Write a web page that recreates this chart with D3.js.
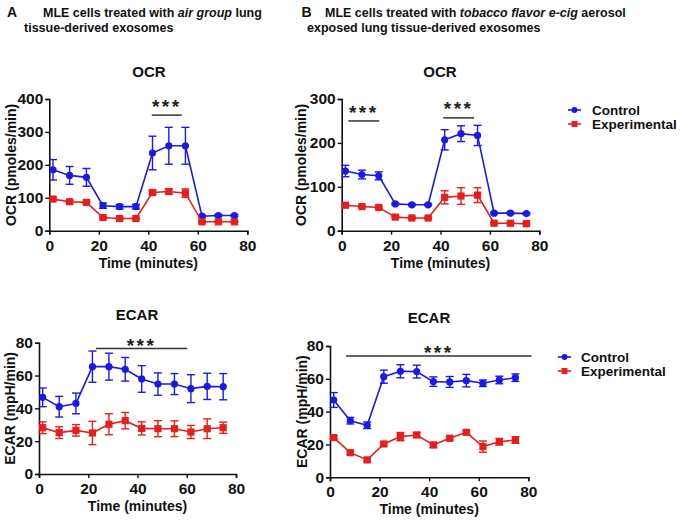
<!DOCTYPE html>
<html><head><meta charset="utf-8">
<script src="https://cdn.jsdelivr.net/npm/d3@7"></script>
<style>
html,body{margin:0;padding:0;background:#fff;}
svg{display:block;font-family:"Liberation Sans",Arial,sans-serif;font-weight:bold;}
</style></head>
<body><svg id="c" width="680" height="521"></svg>
<script>
// ---- data ----
const times = [1.5, 8.2, 15, 21.7, 28.4, 35, 41.7, 48.3, 55, 61.7, 68.3, 74.8];
const seriesNames = ["Control", "Experimental"];
const xTicks = [0, 20, 40, 60, 80];

// Panel A OCR
const aOcrControl = [185, 168, 162, 76, 73, 73, 236, 258, 258, 44, 46, 46];
const aOcrControlErr = [31, 27, 27, 8, 7, 7, 51, 56, 56, 3, 3, 3];
const aOcrExp = [96, 88, 86, 40, 37, 37, 116, 119, 114, 27, 27, 27];
const aOcrExpErr = [4, 3, 3, 3, 2, 2, 5, 8, 13, 3, 2, 2];
const aOcrTicks = [0, 100, 200, 300, 400];

// Panel B OCR
const bOcrControl = [136, 128, 125, 61, 59, 59, 207, 221, 217, 40, 40, 39];
const bOcrControlErr = [13, 10, 9, 2, 2, 2, 23, 18, 23, 2, 2, 2];
const bOcrExp = [58, 55, 53, 31, 29, 29, 76, 79, 81, 17, 17, 16];
const bOcrExpErr = [3, 2, 2, 2, 2, 2, 15, 19, 17, 2, 2, 2];
const bOcrTicks = [0, 100, 200, 300];

// Panel A ECAR
const aEcarControl = [46.7, 41, 43, 65.4, 65.4, 63.8, 57.9, 54.8, 54.8, 52, 53.4, 53.2];
const aEcarControlErr = [5.7, 6.3, 6.3, 9.5, 8.2, 7.2, 8.1, 6.8, 6.4, 8.5, 8, 8];
const aEcarExp = [28.2, 25.2, 26.6, 25, 30.3, 32.5, 27.8, 27.6, 27.6, 25.6, 27.6, 28.2];
const aEcarExpErr = [3.6, 3.6, 3.5, 7.1, 6.4, 5, 4, 4.9, 4.8, 4, 6, 3.4];
const ecarTicks = [0, 20, 40, 60, 80];

// Panel B ECAR
const bEcarControl = [47.1, 34.5, 31.7, 61.3, 64.6, 64.4, 58.3, 58.1, 58.9, 57.3, 59.3, 60.7];
const bEcarControlErr = [4.5, 2, 2, 4, 4, 3.9, 2.9, 3.3, 3.8, 2, 2.3, 2.3];
const bEcarExp = [24.2, 15, 10.6, 20.3, 24.8, 25.8, 19.7, 23.8, 27.4, 18.7, 21.7, 22.7];
const bEcarExpErr = [1, 1, 1, 1, 2.5, 1.5, 1.5, 1, 1, 3.4, 2, 2];

// significance bars: [xStart, xEnd, yBar, yStars]
const aOcrSig = [[41.4, 53.5, 351, 390]];
const bOcrSig = [[2.7, 15.2, 250, 280], [41.1, 53.6, 257, 288]];
const aEcarSig = [[23.1, 60.2, 76.5, 81]];
const bEcarSig = [[6.5, 81.3, 73.9, 79]];

// ---- style / layout ----
const BLUE = "#1a1ae6", RED = "#e61e1e";
const svg = d3.select("#c");

function panel(cfg) {
  const x = d3.scaleLinear().domain([0, 80]).range([cfg.x0, cfg.x1]);
  const y = d3.scaleLinear().domain([0, cfg.ymax]).range([cfg.y0, cfg.y1]);
  const g = svg.append("g");

  // axes
  const xa = g.append("g").attr("transform", `translate(0,${cfg.y0})`)
    .call(d3.axisBottom(x).tickValues(xTicks).tickSize(4).tickPadding(3));
  const ya = g.append("g").attr("transform", `translate(${cfg.x0},0)`)
    .call(d3.axisLeft(y).tickValues(cfg.yTicks).tickSize(4).tickPadding(2));
  [xa, ya].forEach(a => {
    a.select(".domain").attr("stroke", "#111").attr("stroke-width", 1.6);
    a.selectAll(".tick line").attr("stroke", "#111").attr("stroke-width", 1.4);
    a.selectAll(".tick text").attr("fill", "#111").attr("font-size", 15.5)
      .attr("font-weight", "bold").attr("font-family", "Liberation Sans, Arial, sans-serif");
  });
  xa.selectAll(".tick text").attr("dy", "0.85em");

  // titles
  g.append("text").attr("x", cfg.titleX).attr("y", cfg.titleY).attr("text-anchor", "middle")
    .attr("font-size", 15).attr("fill", "#111").text(cfg.title);
  g.append("text").attr("x", (cfg.x0 + cfg.x1) / 2).attr("y", cfg.y0 + 37)
    .attr("text-anchor", "middle").attr("font-size", 14).attr("fill", "#111").text("Time (minutes)");
  g.append("text").attr("transform", `translate(${cfg.ylabX},${(cfg.y0 + cfg.y1) / 2}) rotate(-90)`)
    .attr("text-anchor", "middle").attr("dy", "0.35em").attr("font-size", 14).attr("fill", "#111")
    .text(cfg.ylab);

  // significance
  cfg.sig.forEach(s => {
    g.append("line").attr("x1", x(s[0])).attr("x2", x(s[1])).attr("y1", y(s[2])).attr("y2", y(s[2]))
      .attr("stroke", "#333").attr("stroke-width", 1.5);
    g.append("text").attr("x", (x(s[0]) + x(s[1])) / 2).attr("y", y(s[3]) + 11)
      .attr("text-anchor", "middle").attr("font-size", 19).attr("letter-spacing", 2.5)
      .attr("fill", "#222").text("***");
  });

  // series
  const series = [
    {vals: cfg.ctrl, err: cfg.ctrlErr, color: BLUE, shape: "circle"},
    {vals: cfg.exp, err: cfg.expErr, color: RED, shape: "square"}
  ];
  series.forEach(s => {
    const pts = times.map((t, i) => ({t, v: s.vals[i], e: s.err[i]}));
    const sg = g.append("g");
    sg.append("path").datum(pts).attr("fill", "none").attr("stroke", s.color).attr("stroke-width", 1.6)
      .attr("d", d3.line().x(d => x(d.t)).y(d => y(d.v)));
    const eb = sg.selectAll("g.eb").data(pts).join("g").attr("stroke", s.color).attr("stroke-width", 1.4);
    eb.append("line").attr("x1", d => x(d.t)).attr("x2", d => x(d.t))
      .attr("y1", d => y(d.v - d.e)).attr("y2", d => y(d.v + d.e));
    eb.append("line").attr("x1", d => x(d.t) - 4).attr("x2", d => x(d.t) + 4)
      .attr("y1", d => y(d.v + d.e)).attr("y2", d => y(d.v + d.e));
    eb.append("line").attr("x1", d => x(d.t) - 4).attr("x2", d => x(d.t) + 4)
      .attr("y1", d => y(d.v - d.e)).attr("y2", d => y(d.v - d.e));
    if (s.shape === "circle") {
      sg.selectAll("circle").data(pts).join("circle").attr("cx", d => x(d.t)).attr("cy", d => y(d.v))
        .attr("r", 3.6).attr("fill", s.color);
    } else {
      sg.selectAll("rect").data(pts).join("rect").attr("x", d => x(d.t) - 3.6).attr("y", d => y(d.v) - 3.6)
        .attr("width", 7.2).attr("height", 7.2).attr("fill", s.color);
    }
  });

  // legend
  if (cfg.legend) {
    const L = cfg.legend;
    series.forEach((s, i) => {
      const yy = L.y + i * 14;
      g.append("line").attr("x1", L.x).attr("x2", L.x + 13).attr("y1", yy).attr("y2", yy)
        .attr("stroke", s.color).attr("stroke-width", 1.6);
      if (s.shape === "circle") g.append("circle").attr("cx", L.x + 6.5).attr("cy", yy).attr("r", 3).attr("fill", s.color);
      else g.append("rect").attr("x", L.x + 3.5).attr("y", yy - 3).attr("width", 6).attr("height", 6).attr("fill", s.color);
      g.append("text").attr("x", L.tx).attr("y", yy).attr("dy", "0.36em").attr("font-size", 13.5)
        .attr("fill", "#111").text(seriesNames[i]);
    });
  }
}

panel({x0: 49.3, x1: 247.3, y0: 230.7, y1: 99, ymax: 400, yTicks: aOcrTicks,
  title: "OCR", titleX: 149, titleY: 77, ylab: "OCR (pmoles/min)", ylabX: 11,
  ctrl: aOcrControl, ctrlErr: aOcrControlErr, exp: aOcrExp, expErr: aOcrExpErr, sig: aOcrSig});
panel({x0: 341.7, x1: 539.3, y0: 230.7, y1: 99, ymax: 300, yTicks: bOcrTicks,
  title: "OCR", titleX: 440, titleY: 77, ylab: "OCR (pmoles/min)", ylabX: 301,
  ctrl: bOcrControl, ctrlErr: bOcrControlErr, exp: bOcrExp, expErr: bOcrExpErr, sig: bOcrSig,
  legend: {x: 568, tx: 592, y: 110}});
panel({x0: 39, x1: 236, y0: 474, y1: 342.7, ymax: 80, yTicks: ecarTicks,
  title: "ECAR", titleX: 137, titleY: 320, ylab: "ECAR (mpH/min)", ylabX: 10,
  ctrl: aEcarControl, ctrlErr: aEcarControlErr, exp: aEcarExp, expErr: aEcarExpErr, sig: aEcarSig});
panel({x0: 330, x1: 528.3, y0: 477.3, y1: 346, ymax: 80, yTicks: ecarTicks,
  title: "ECAR", titleX: 429, titleY: 323, ylab: "ECAR (mpH/min)", ylabX: 302,
  ctrl: bEcarControl, ctrlErr: bEcarControlErr, exp: bEcarExp, expErr: bEcarExpErr, sig: bEcarSig,
  legend: {x: 558, tx: 581, y: 357}});

// headers
const hdr = svg.append("g").attr("fill", "#111");
hdr.append("text").attr("x", 7).attr("y", 16.7).attr("font-size", 14).text("A");
const a1 = hdr.append("text").attr("x", 43).attr("y", 16.5).attr("font-size", 12.5);
a1.append("tspan").text("MLE cells treated with ");
a1.append("tspan").attr("font-style", "italic").text("air group");
a1.append("tspan").text(" lung");
hdr.append("text").attr("x", 24).attr("y", 31.5).attr("font-size", 12.5).text("tissue-derived exosomes");
hdr.append("text").attr("x", 301.5).attr("y", 16.7).attr("font-size", 14).text("B");
const b1 = hdr.append("text").attr("x", 325).attr("y", 16.5).attr("font-size", 12.5);
b1.append("tspan").text("MLE cells treated with ");
b1.append("tspan").attr("font-style", "italic").text("tobacco flavor e-cig");
b1.append("tspan").text(" aerosol");
hdr.append("text").attr("x", 307).attr("y", 31.5).attr("font-size", 12.5).text("exposed lung tissue-derived exosomes");
</script></body></html>
